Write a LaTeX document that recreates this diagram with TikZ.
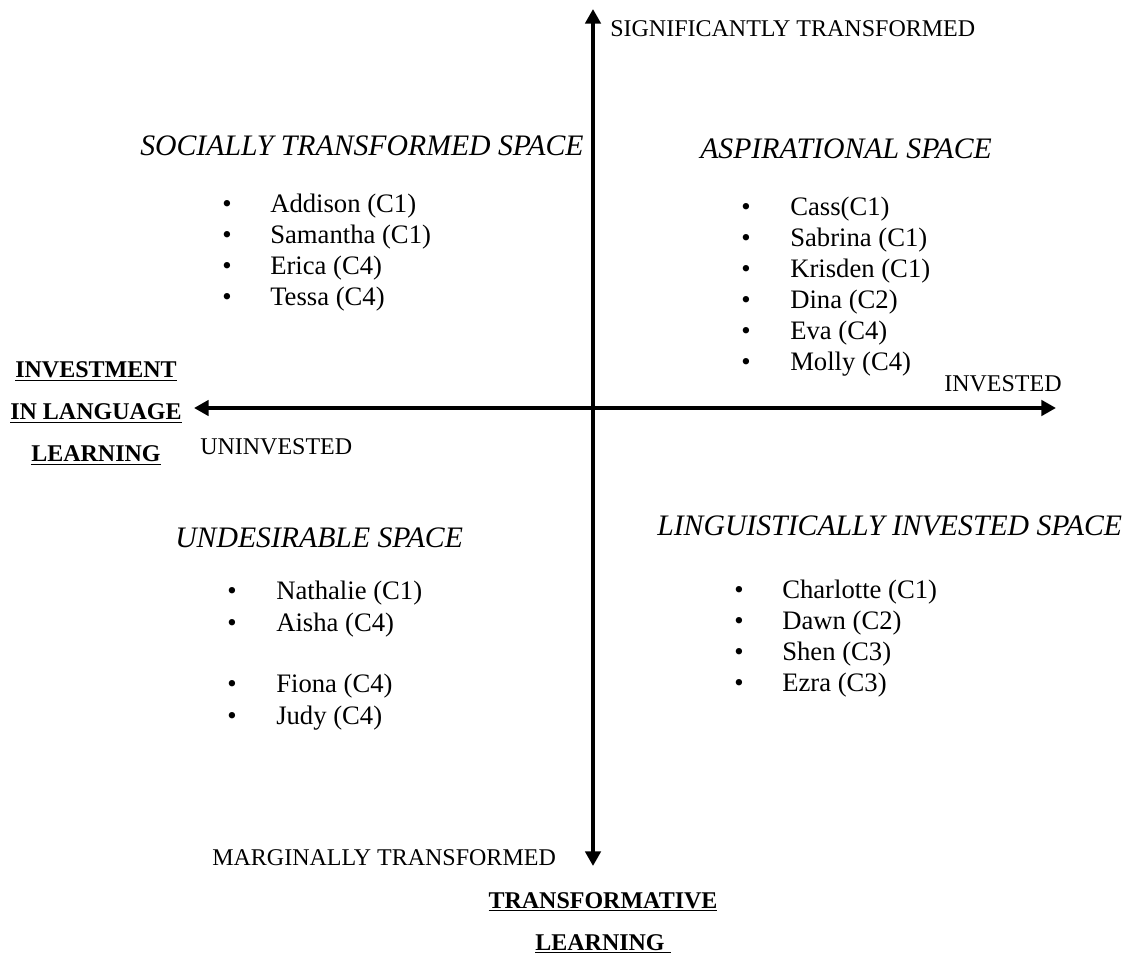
\documentclass[tikz,border=0pt]{standalone}
\usepackage{fontspec}
\setmainfont{Liberation Serif}
\usetikzlibrary{arrows.meta}
\tikzstyle{axis}      = [line width=3pt, {Triangle[length=11pt,width=11.5pt]}-{Triangle[length=11pt,width=11.5pt]}]
\tikzstyle{pole}      = [anchor=base west, inner sep=0pt, font=\fontsize{18}{21}\selectfont]
\tikzstyle{space}     = [anchor=base west, inner sep=0pt, font=\fontsize{22.3}{26}\selectfont\itshape]
\tikzstyle{dimension} = [anchor=base, inner sep=0pt, font=\fontsize{18}{21}\selectfont\bfseries]
\tikzstyle{dot}       = [anchor=base, inner sep=0pt, font=\fontsize{20}{23}\selectfont]
\tikzstyle{member}    = [anchor=base west, inner sep=0pt, font=\fontsize{20}{23}\selectfont]

\begin{document}
\begin{tikzpicture}[x=0.75pt, y=-0.75pt]
  \useasboundingbox (0,0) rectangle (1125,955);

  %the two axes
  \coordinate (top) at (593,9);
  \coordinate (bottom) at (593,866);
  \coordinate (left) at (194,408);
  \coordinate (right) at (1056,408);
  \draw[axis] (bottom) -- (top);
  \draw[axis] (left) -- (right);

  %labels at the ends of the axes
  \node[pole] (significant) at (610,37) {SIGNIFICANTLY TRANSFORMED};
  \node[pole] (marginal) at (212,865) {MARGINALLY TRANSFORMED};
  \node[pole] (invested) at (944,392) {INVESTED};
  \node[pole] (uninvested) at (200,455) {UNINVESTED};

  %names of the two dimensions
  \node[dimension] (inv1) at (96,378) {\underline{INVESTMENT}};
  \node[dimension] (inv2) at (96,420) {\underline{IN LANGUAGE}};
  \node[dimension] (inv3) at (96,462) {\underline{LEARNING}};
  \node[dimension] (tra1) at (603,908) {\underline{TRANSFORMATIVE}};
  \node[dimension] (tra2) at (603,950) {\underline{LEARNING~}};

  %top left space
  \node[space] (social) at (140,156) {SOCIALLY TRANSFORMED SPACE};
  \foreach \name [count=\i] in {Addison (C1), Samantha (C1), Erica (C4), Tessa (C4)}{
    \node[dot] (tlb\i) at (227,182+31*\i) {\textbullet};
    \node[member] (tl\i) at (270,182+31*\i) {\name};
  }

  %top right space
  \node[space] (aspiration) at (700,159) {ASPIRATIONAL SPACE};
  \foreach \name [count=\i] in {Cass(C1), Sabrina (C1), Krisden (C1), Dina (C2), Eva (C4), Molly (C4)}{
    \node[dot] (trb\i) at (746,185+31*\i) {\textbullet};
    \node[member] (tr\i) at (790,185+31*\i) {\name};
  }

  %bottom left space
  \node[space] (undesirable) at (175,547) {UNDESIRABLE SPACE};
  \foreach \name/\yy [count=\i] in {Nathalie (C1)/599, Aisha (C4)/631, Fiona (C4)/692, Judy (C4)/724}{
    \node[dot] (blb\i) at (232,\yy) {\textbullet};
    \node[member] (bl\i) at (276,\yy) {\name};
  }

  %bottom right space
  \node[space] (linguistic) at (657,536) {LINGUISTICALLY INVESTED SPACE};
  \foreach \name [count=\i] in {Charlotte (C1), Dawn (C2), Shen (C3), Ezra (C3)}{
    \node[dot] (brb\i) at (739,567+31*\i) {\textbullet};
    \node[member] (br\i) at (782,567+31*\i) {\name};
  }
\end{tikzpicture}
\end{document}
